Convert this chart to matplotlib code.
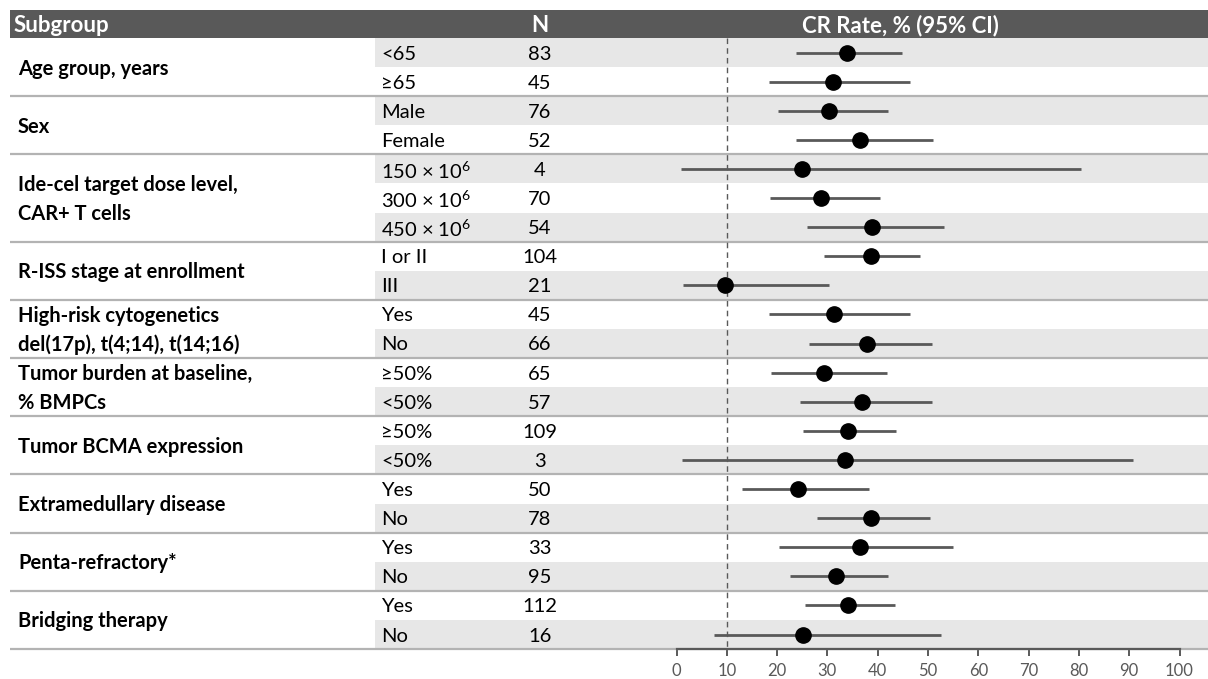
import matplotlib.pyplot as plt

plt.rcParams['font.family'] = ['Lato', 'DejaVu Sans']
plt.rcParams['mathtext.fontset'] = 'custom'
plt.rcParams['mathtext.rm'] = 'Lato'
plt.rcParams['mathtext.bf'] = 'Lato:bold'

# subgroup names (one entry per line) and how many rows each one covers
groups = [["Age group, years"],
          ["Sex"],
          ["Ide-cel target dose level,", "CAR+ T cells"],
          ["R-ISS stage at enrollment"],
          ["High-risk cytogenetics", "del(17p), t(4;14), t(14;16)"],
          ["Tumor burden at baseline,", "% BMPCs"],
          ["Tumor BCMA expression"],
          ["Extramedullary disease"],
          ["Penta-refractory*"],
          ["Bridging therapy"]]
group_sizes = [2, 2, 3, 2, 2, 2, 2, 2, 2, 2]

levels = ["<65", "≥65", "Male", "Female",
          "150 × 10$^6$", "300 × 10$^6$", "450 × 10$^6$",
          "I or II", "III", "Yes", "No", "≥50%", "<50%", "≥50%", "<50%",
          "Yes", "No", "Yes", "No", "Yes", "No"]
n_pts = [83, 45, 76, 52, 4, 70, 54, 104, 21, 45, 66, 65, 57, 109, 3,
         50, 78, 33, 95, 112, 16]
cr_rate = [33.8, 31.2, 30.3, 36.5, 25.0, 28.7, 38.9, 38.6, 9.6, 31.3, 37.9,
           29.3, 36.9, 34.0, 33.4, 24.2, 38.7, 36.4, 31.8, 34.1, 25.2]
ci_low = [23.8, 18.4, 20.2, 23.8, 0.8, 18.6, 26.0, 29.3, 1.3, 18.4, 26.4,
          18.8, 24.5, 25.2, 1.0, 13.1, 27.9, 20.4, 22.6, 25.5, 7.4]
ci_high = [44.8, 46.5, 42.0, 51.0, 80.5, 40.5, 53.2, 48.4, 30.4, 46.5, 50.8,
           41.8, 50.8, 43.7, 90.7, 38.2, 50.3, 54.9, 42.0, 43.5, 52.5]
ticks = [0, 10, 20, 30, 40, 50, 60, 70, 80, 90, 100]
ref_line = 10

W, H = 1208, 679
fig = plt.figure(figsize=(W / 100, H / 100), dpi=100)
ax = fig.add_axes([0, 0, 1, 1])

# pixel geometry -> data units (x: CR rate, y: row index)
x0_px, x100_px = 676.5, 1179.5
upp = 100 / (x100_px - x0_px)
row0_px, pitch = 52.5, 29.1
ax.set_xlim(-x0_px * upp, (W - x0_px) * upp)
ax.set_ylim((H - row0_px) / pitch, -row0_px / pitch)


def px(x):
    return (x - x0_px) * upp


nrows = len(levels)
dark = '#595959'
band = '#e7e7e7'
sep = '#b3b3b3'
fs = 14.5
tshift = 1.5 / pitch  # nudge text down a little

# alternating row shading in the level / N / plot columns
for i in range(nrows):
    if i % 2 == 0:
        ax.axhspan(i - 0.5, i + 0.5, xmin=375 / W, xmax=1, color=band, lw=0, zorder=0)

# header bar
ax.fill_between([px(10), px(W)], -0.5 - 28 / pitch, -0.5, color=dark, lw=0, zorder=1)
hy = -0.5 - 13.5 / pitch + tshift
ax.text(px(14), hy, "Subgroup", color='white', fontsize=16, fontweight='bold',
        va='center', ha='left')
ax.text(px(540), hy, "N", color='white', fontsize=16, fontweight='bold',
        va='center', ha='center')
ax.text(px(900), hy, "CR Rate, % (95% CI)", color='white', fontsize=16,
        fontweight='bold', va='center', ha='center')

# subgroup labels and separators
start = 0
for names, size in zip(groups, group_sizes):
    mid = start + (size - 1) / 2
    offs = [0] if len(names) == 1 else [-0.5, 0.5]
    for name, o in zip(names, offs):
        ax.text(px(18), mid + o + tshift, name, fontsize=fs, fontweight='bold',
                va='center', ha='left', color='black')
    start += size
    ax.plot([px(10), px(W)], [start - 0.5, start - 0.5], color=sep, lw=1.6,
            zorder=2, solid_capstyle='butt')

for i in range(nrows):
    ax.text(px(381), i + tshift, levels[i], fontsize=fs, va='center', ha='left')
    ax.text(px(540), i + tshift, str(n_pts[i]), fontsize=fs, va='center', ha='center')

# reference line
ax.plot([ref_line, ref_line], [-0.5, nrows - 0.5], color=dark, lw=1,
        ls=(0, (4, 3)), zorder=3)

# estimates with confidence intervals
rows = list(range(nrows))
ax.hlines(rows, ci_low, ci_high, color=dark, lw=2, zorder=4)
ax.plot(cr_rate, rows, 'o', color='black', ms=11, zorder=5)

# x axis at the bottom of the table
for s in ['top', 'right', 'left']:
    ax.spines[s].set_visible(False)
ax.spines['bottom'].set_position(('data', nrows - 0.5))
ax.spines['bottom'].set_bounds(0, 100)
ax.spines['bottom'].set_color(dark)
ax.spines['bottom'].set_linewidth(1.6)
ax.spines['bottom'].set_zorder(6)
ax.set_xticks(ticks)
ax.tick_params(axis='x', direction='out', length=5, width=1.4, color=dark,
               labelcolor=dark, labelsize=12, pad=5)
ax.set_yticks([])

fig.savefig('out.png', dpi=100)
